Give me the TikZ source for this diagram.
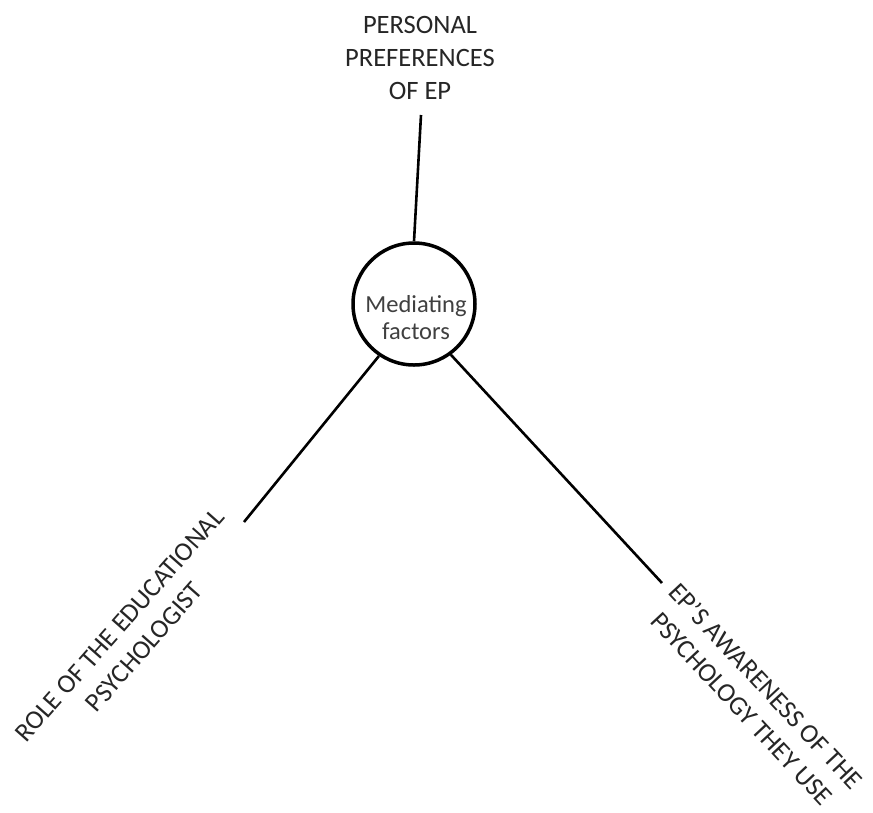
\documentclass[tikz,border=0pt]{standalone}
\usepackage{fontspec}
\setmainfont{Carlito}
\begin{document}
\begin{tikzpicture}[x=1pt,y=-1pt,
  lbl/.style={font=\fontsize{26.5}{33}\selectfont, text=black!85, align=center, inner sep=0pt},
  hub/.style={circle, draw=black, line width=3.5pt, minimum size=122pt, inner sep=0pt},
  hubtext/.style={font=\fontsize{24.5}{27}\selectfont, text=black!75, align=center, inner sep=0pt},
  link/.style={draw=black, line width=2.6pt}]
\useasboundingbox[fill=white] (0,0) rectangle (873,812);
\node[hub] (m) at (414,304) {};
\node[hubtext] (mt) at (416,318) {Mediating\\factors};
\node[lbl] (top) at (420,58) {PERSONAL\\PREFERENCES\\OF EP};
\node[lbl, rotate=48.5] (left) at (132,636) {ROLE OF THE EDUCATIONAL\\PSYCHOLOGIST};
\node[lbl, rotate=-47] (right) at (754,697) {EP’S AWARENESS OF THE\\PSYCHOLOGY THEY USE};
\coordinate (tend) at (421,115);
\coordinate (lend) at (244,522);
\coordinate (rend) at (662,583);
\draw[link] (tend) -- (m.north);
\draw[link] (lend) -- (m.236);
\draw[link] (rend) -- (m.306);
\end{tikzpicture}
\end{document}
